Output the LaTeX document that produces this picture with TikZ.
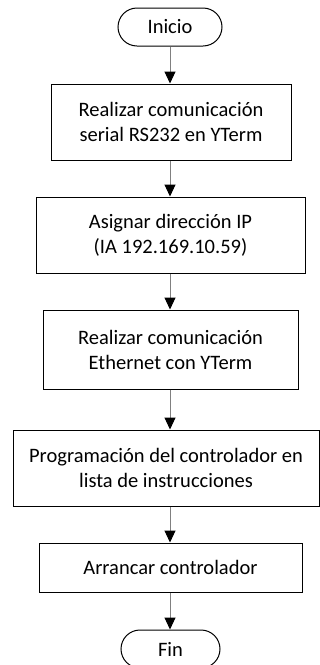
\documentclass[tikz,border=0pt]{standalone}
\usepackage{fontspec}
\setmainfont{Carlito}
\usetikzlibrary{arrows.meta}
\begin{document}
\begin{tikzpicture}[x=1pt,y=-1pt,
  every node/.style={font=\fontsize{20.5pt}{25pt}\selectfont, text=black, align=center, inner sep=0pt},
  stepbox/.style={draw=black, line width=1pt, rectangle},
  term/.style={draw=black, line width=1pt, rectangle, rounded corners=19pt, minimum height=38pt},
  conn/.style={draw=black!50, line width=1pt, -{Triangle[length=12pt,width=11pt,fill=black,color=black]}}
]
\useasboundingbox (0,0) rectangle (320,665);
\node[term, minimum width=104pt] (ini) at (170,27) {Inicio};
\node[stepbox, minimum width=240pt, minimum height=76pt] (b1) at (171,122) {Realizar comunicación\\serial RS232 en YTerm};
\node[stepbox, minimum width=269pt, minimum height=76pt] (b2) at (170.5,235) {Asignar dirección IP\\(IA 192.169.10.59)};
\node[stepbox, minimum width=255pt, minimum height=79pt] (b3) at (170.5,349.5) {Realizar comunicación\\Ethernet con YTerm};
\node[stepbox, minimum width=306pt, minimum height=76pt] (b4) at (166,468) {Programación del controlador en\\lista de instrucciones};
\node[stepbox, minimum width=263pt, minimum height=49pt] (b5) at (170.5,567.5) {Arrancar controlador};
\node[term, minimum width=99pt] (fin) at (170.5,649) {Fin};
\draw[conn] (ini.south) -- (ini.south |- b1.north);
\draw[conn] (ini.south |- b1.south) -- (ini.south |- b2.north);
\draw[conn] (ini.south |- b2.south) -- (ini.south |- b3.north);
\draw[conn] (ini.south |- b3.south) -- (ini.south |- b4.north);
\draw[conn] (ini.south |- b4.south) -- (ini.south |- b5.north);
\draw[conn] (ini.south |- b5.south) -- (ini.south |- fin.north);
\end{tikzpicture}
\end{document}
